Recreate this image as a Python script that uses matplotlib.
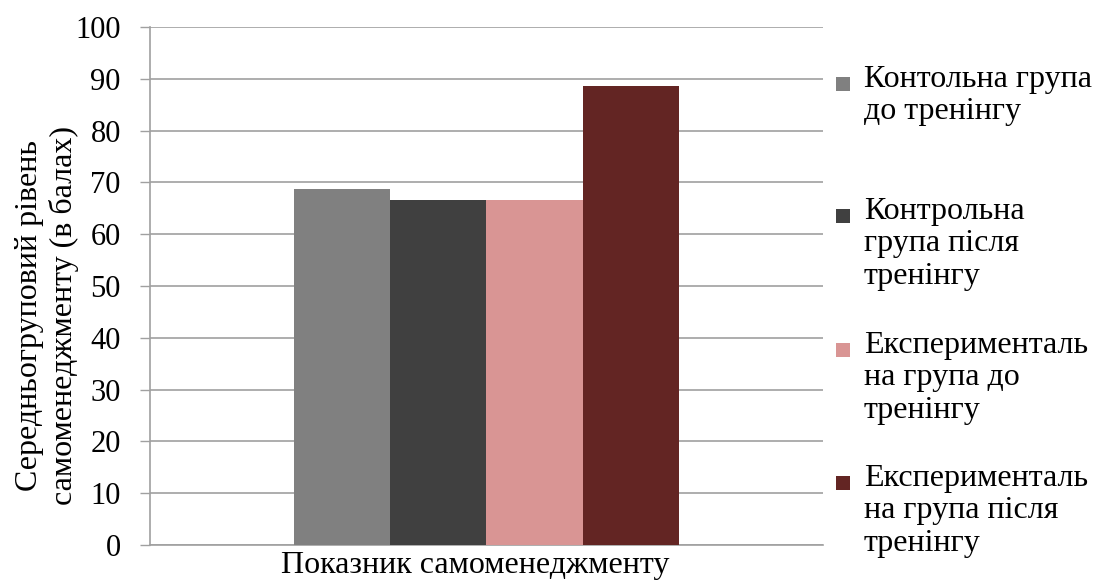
import matplotlib.pyplot as plt
from matplotlib.patches import Rectangle
import numpy as np

plt.rcParams['font.family'] = ['Liberation Serif', 'DejaVu Serif']

# Average self-management level by group, points
category = ['Показник самоменеджменту']
series_labels = [
    'Контольна група\nдо тренінгу',
    'Контрольна\nгрупа після\nтренінгу',
    'Експерименталь\nна група до\nтренінгу',
    'Експерименталь\nна група після\nтренінгу',
]
series_values = [68.8, 66.6, 66.6, 88.6]
series_colors = ['#808080', '#404040', '#D99594', '#632523']

y_ticks = list(range(0, 101, 10))

fig = plt.figure(figsize=(10.97, 5.81), dpi=100)
ax = fig.add_axes([0.1367, 0.062, 0.6135, 0.8915])

x = np.arange(len(category))
width = 0.1427
offsets = (np.arange(len(series_values)) - (len(series_values) - 1) / 2) * width
for off, val, col, lab in zip(offsets, series_values, series_colors, series_labels):
    ax.bar(x + off, [val], width=width, color=col, edgecolor='none', zorder=3, label=lab)

ax.set_xlim(-0.5, 0.5)
ax.set_ylim(0, 100)
ax.set_yticks(y_ticks)
ax.set_xticks([])
ax.yaxis.grid(True, color='#a0a0a0', linewidth=1.2, zorder=0)
ax.tick_params(axis='y', labelsize=22, length=7, width=1, color='#a0a0a0', pad=14)
for name in ['top', 'right']:
    ax.spines[name].set_visible(False)
for name in ['left', 'bottom']:
    ax.spines[name].set_color('#a0a0a0')
    ax.spines[name].set_linewidth(1.2)

fig.text(0.433, 0.026, category[0], ha='center', va='center', fontsize=23)

# two-line vertical axis title
fig.text(0.027, 0.457, 'Середньогруповий рівень', rotation=90,
         ha='center', va='center', fontsize=23)
fig.text(0.058, 0.457, 'самоменеджменту (в балах)', rotation=90,
         ha='center', va='center', fontsize=23)

# legend on the right, handle level with the first line of each entry
entry_tops = [84, 216, 350, 483]
W, H = 1097, 581
for top, col, lab in zip(entry_tops, series_colors, series_labels):
    fig.patches.append(Rectangle((836 / W, 1 - (top + 7) / H), 14 / W, 14 / H,
                                 transform=fig.transFigure, facecolor=col,
                                 edgecolor='none'))
    fig.text(864 / W, 1 - (top - 19) / H, lab, ha='left', va='top',
             fontsize=23, linespacing=1.15)

fig.savefig('out.png', dpi=100)
